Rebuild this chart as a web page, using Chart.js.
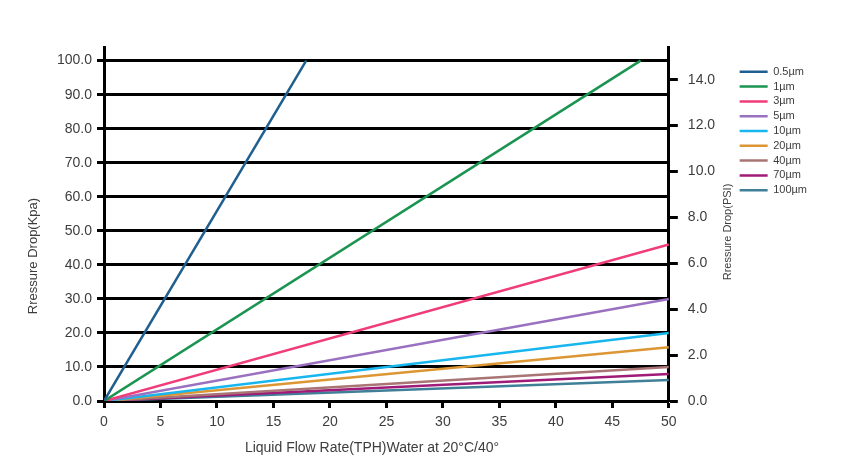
<!DOCTYPE html>
<html>
<head>
<meta charset="utf-8">
<script src="https://cdn.jsdelivr.net/npm/chart.js@4.4.1/dist/chart.umd.min.js"></script>
<style>
  body { margin: 0; background: #fff; }
  #wrap { width: 852px; height: 456px; }
</style>
</head>
<body>
<div id="wrap"><canvas id="chart"></canvas></div>
<script>
// filter grades and their straight pressure-drop lines (start at 0,0)
var grades = ['0.5µm', '1µm', '3µm', '5µm', '10µm', '20µm', '40µm', '70µm', '100µm'];
var endFlow = [17.9, 47.5, 50, 50, 50, 50, 50, 50, 50];     // TPH
var endDrop = [100, 100, 46.0, 30.0, 20.0, 15.8, 10.0, 7.9, 6.2]; // kPa
var lineColors = ['#1f5f8f', '#1a9450', '#f03c78', '#9a70c0', '#18b6ee',
                  '#dc9634', '#a87474', '#a01a78', '#3f7f98'];

var xTicks = [0, 5, 10, 15, 20, 25, 30, 35, 40, 45, 50];
var kpaTicks = [0, 10, 20, 30, 40, 50, 60, 70, 80, 90, 100];
var psiTicks = [0, 2, 4, 6, 8, 10, 12, 14];
var kpaToPsi = 0.1483;

var datasets = grades.map(function (g, i) {
    return {
        label: g,
        data: [{ x: 0, y: 0 }, { x: endFlow[i], y: endDrop[i] }],
        borderColor: lineColors[i],
        backgroundColor: lineColors[i],
        borderWidth: 2.5,
        pointRadius: 0,
        yAxisID: 'y'
    };
});

var tickFont = { family: 'Liberation Sans, Arial, sans-serif', size: 14 };
var textColor = '#3d3d3d';

// axis titles drawn by hand (the right one reads bottom-to-top like the left)
var axisTitles = {
    id: 'axisTitles',
    afterDraw: function (chart) {
        var c = chart.ctx, a = chart.chartArea;
        c.save();
        c.fillStyle = textColor;
        c.textAlign = 'center';
        c.textBaseline = 'middle';
        c.font = '14px Liberation Sans, Arial, sans-serif';
        c.fillText('Liquid Flow Rate(TPH)Water at 20°C/40°', a.left + 268, a.bottom + 47);
        c.font = '13px Liberation Sans, Arial, sans-serif';
        c.translate(33, a.top + 209);
        c.rotate(-Math.PI / 2);
        c.fillText('Rressure Drop(Kpa)', 0, 0);
        c.restore();
        c.save();
        c.fillStyle = textColor;
        c.textAlign = 'center';
        c.textBaseline = 'middle';
        c.font = '11px Liberation Sans, Arial, sans-serif';
        c.translate(a.right + 59, a.top + 185);
        c.rotate(-Math.PI / 2);
        c.fillText('Rressure Drop(PSI)', 0, 0);
        c.restore();
    }
};

new Chart(document.getElementById('chart'), {
    type: 'line',
    data: { datasets: datasets },
    plugins: [axisTitles],
    options: {
        responsive: true,
        maintainAspectRatio: false,
        animation: false,
        layout: { padding: { top: 47, right: 35, bottom: 0, left: 0 } },
        plugins: {
            tooltip: { enabled: false },
            legend: {
                position: 'right',
                align: 'start',
                title: { display: true, text: '', font: { size: 1 }, padding: { top: 14.3, bottom: 0 } },
                labels: {
                    usePointStyle: true,
                    pointStyle: 'line',
                    pointStyleWidth: 28,
                    padding: 3.8,
                    color: textColor,
                    font: { family: 'Liberation Sans, Arial, sans-serif', size: 11 }
                }
            }
        },
        scales: {
            x: {
                type: 'linear',
                min: 0,
                max: 50,
                afterBuildTicks: function (s) { s.ticks = xTicks.map(function (v) { return { value: v }; }); },
                afterFit: function (s) { s.height = 55; },
                border: { color: '#000', width: 3 },
                grid: { drawOnChartArea: false, color: '#000', tickLength: 7, tickWidth: 3 },
                ticks: { color: textColor, font: tickFont, padding: 6 }
            },
            y: {
                position: 'left',
                min: 0,
                max: 104,
                afterBuildTicks: function (s) { s.ticks = kpaTicks.map(function (v) { return { value: v }; }); },
                afterFit: function (s) { s.width = 104; },
                border: { color: '#000', width: 3 },
                grid: { color: '#000', lineWidth: 3, tickLength: 7 },
                ticks: {
                    color: textColor, font: tickFont, padding: 5,
                    callback: function (v) { return v.toFixed(1); }
                }
            },
            y2: {
                position: 'right',
                min: 0,
                max: 104 * kpaToPsi,
                afterBuildTicks: function (s) { s.ticks = psiTicks.map(function (v) { return { value: v }; }); },
                afterFit: function (s) { s.width = 67; },
                border: { color: '#000', width: 3 },
                grid: { drawOnChartArea: false, color: '#000', tickLength: 9, tickWidth: 3 },
                ticks: {
                    color: textColor, font: tickFont, padding: 10,
                    callback: function (v) { return v.toFixed(1); }
                }
            }
        }
    }
});
</script>
</body>
</html>
